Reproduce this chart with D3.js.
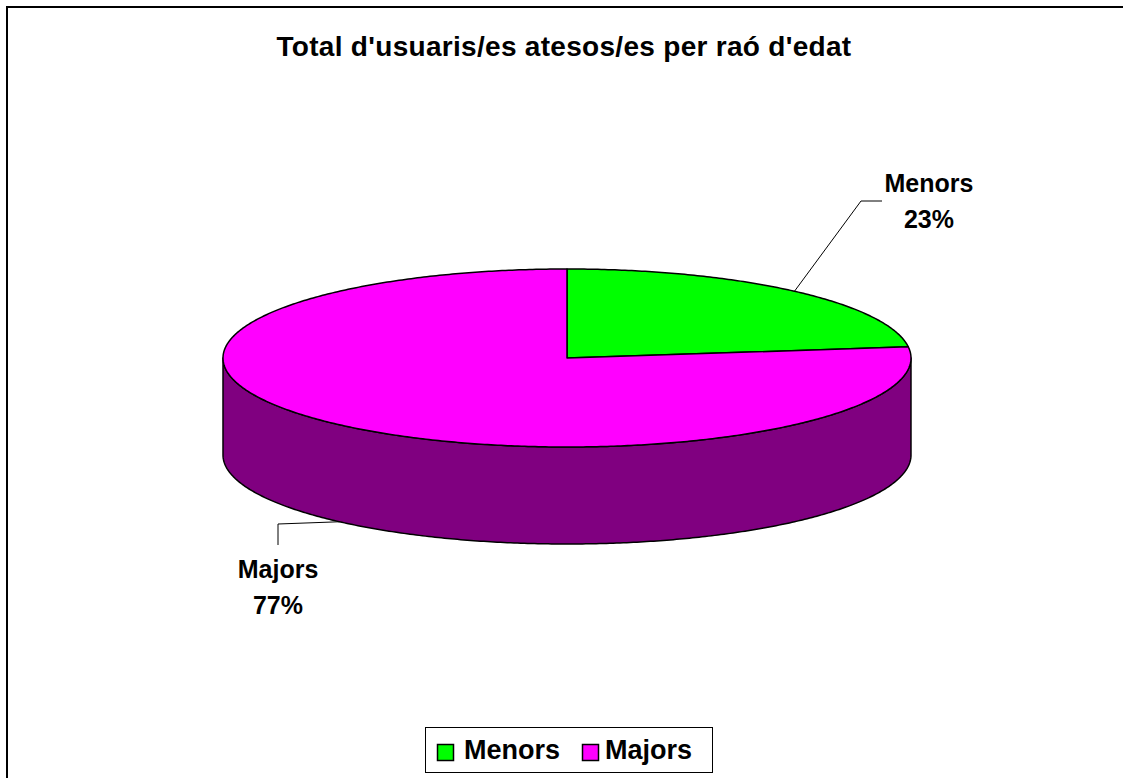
<!DOCTYPE html>
<html lang="ca">
<head>
<meta charset="utf-8">
<title>Total d'usuaris/es atesos/es per raó d'edat</title>
<script src="https://d3js.org/d3.v7.min.js"></script>
<style>
  body { margin: 0; background: #fff; }
  text { font-family: "Liberation Sans", Arial, sans-serif; font-weight: bold; fill: #000; }
</style>
</head>
<body>
<script>
var w = 1123, h = 778;

// data
var categories = ["Menors", "Majors"];
var values = [23, 77];
var colors = ["#00ff00", "#ff00ff"];
var sideColors = ["#008000", "#800080"];
var title = "Total d'usuaris/es atesos/es per raó d'edat";

// pie geometry
var cx = 567, cy = 358, rx = 344, ry = 89, depth = 97;

var svg = d3.select("body").append("svg")
    .attr("width", w)
    .attr("height", h);

// frame (only top and left edges visible)
svg.append("rect")
    .attr("x", 7).attr("y", 7)
    .attr("width", w + 20).attr("height", h + 20)
    .attr("fill", "none")
    .attr("stroke", "#000")
    .attr("stroke-width", 2);

svg.append("text")
    .attr("x", 564).attr("y", 56)
    .attr("text-anchor", "middle")
    .style("font-size", "28px")
    .style("letter-spacing", "0.3px")
    .text(title);

var pie = d3.pie().sort(null).value(function(d) { return d; });
var arcs = pie(values);

function px(a) { return cx + rx * Math.sin(a); }
function py(a, dz) { return cy - ry * Math.cos(a) + (dz || 0); }

function arcPoints(a0, a1, dz) {
  var n = Math.max(2, Math.ceil(Math.abs(a1 - a0) / 0.01));
  return d3.range(n + 1).map(function(i) {
    var a = a0 + (a1 - a0) * i / n;
    return [px(a), py(a, dz)];
  });
}

var line = d3.line();

// side walls (front half only: 90deg .. 270deg)
arcs.forEach(function(d, i) {
  var a0 = Math.max(d.startAngle, Math.PI / 2);
  var a1 = Math.min(d.endAngle, 3 * Math.PI / 2);
  if (a1 <= a0) return;
  var pts = arcPoints(a0, a1, 0).concat(arcPoints(a1, a0, depth));
  svg.append("path")
      .attr("d", line(pts) + "Z")
      .attr("fill", sideColors[i])
      .attr("stroke", "#000")
      .attr("stroke-width", 1.5)
      .attr("stroke-linejoin", "round");
});

// top faces
arcs.forEach(function(d, i) {
  var pts = [[cx, cy]].concat(arcPoints(d.startAngle, d.endAngle, 0));
  svg.append("path")
      .attr("d", line(pts) + "Z")
      .attr("fill", colors[i])
      .attr("stroke", "#000")
      .attr("stroke-width", 1.5)
      .attr("stroke-linejoin", "round");
});

// data labels with leader lines
var labelPos = [
  { line: [[861, 201], [882, 201]], x: 929, y: 192 },
  { line: [[278, 524], [278, 545]], x: 278, y: 578 }
];

arcs.forEach(function(d, i) {
  var mid = (d.startAngle + d.endAngle) / 2;
  var dz = Math.cos(mid) < 0 ? depth : 0;
  var start = [px(mid), py(mid, dz)];
  svg.append("path")
      .attr("d", line([start].concat(labelPos[i].line)))
      .attr("fill", "none")
      .attr("stroke", "#000")
      .attr("stroke-width", 1);
  var t = svg.append("text")
      .attr("x", labelPos[i].x).attr("y", labelPos[i].y)
      .attr("text-anchor", "middle")
      .style("font-size", "25px");
  t.append("tspan").attr("x", labelPos[i].x).text(categories[i]);
  t.append("tspan").attr("x", labelPos[i].x).attr("dy", 36)
      .text(Math.round(d.value / d3.sum(values) * 100) + "%");
});

// legend
var legend = svg.append("g");
legend.append("rect")
    .attr("x", 425.5).attr("y", 727.5)
    .attr("width", 287).attr("height", 45)
    .attr("fill", "#fff")
    .attr("stroke", "#000")
    .attr("stroke-width", 1);

var swatchX = [437, 582];
var legendTextX = [464, 605];
categories.forEach(function(c, i) {
  legend.append("rect")
      .attr("x", swatchX[i] + 0.5).attr("y", 744.5)
      .attr("width", 16).attr("height", 16)
      .attr("fill", colors[i])
      .attr("stroke", "#000")
      .attr("stroke-width", 1.5);
  legend.append("text")
      .attr("x", legendTextX[i]).attr("y", 759)
      .style("font-size", "27px")
      .text(c);
});
</script>
</body>
</html>
